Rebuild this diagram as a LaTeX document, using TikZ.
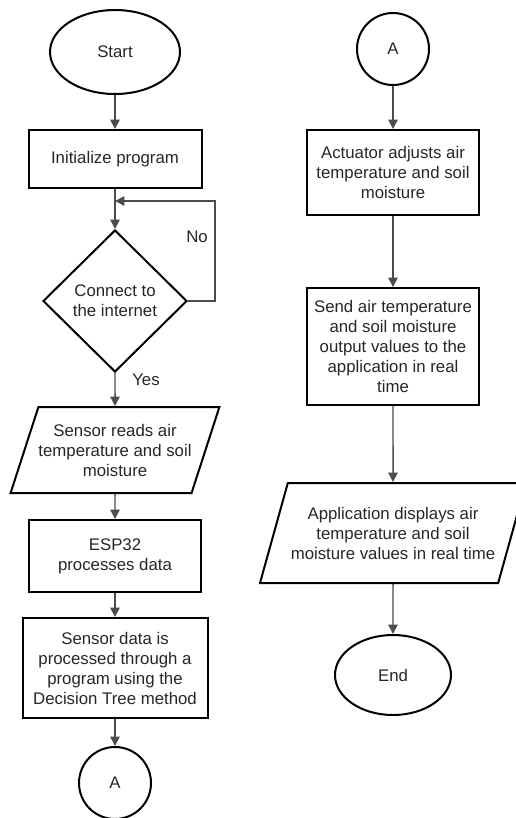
\documentclass[tikz,border=0pt]{standalone}
\usepackage{fontspec}
\setmainfont{Liberation Sans}
\usetikzlibrary{shapes.geometric,arrows.meta}
\begin{document}
\begin{tikzpicture}[x=0.75pt,y=-0.75pt]
\tikzset{block/.style = {draw,line width=1.5pt,inner sep=0pt,align=center,text=black!85,font=\fontsize{12.6}{15}\selectfont}}
\tikzset{term/.style = {block,shape=ellipse}}
\tikzset{proc/.style = {block,shape=rectangle}}
\tikzset{io/.style = {block,shape=trapezium,trapezium left angle=62,trapezium right angle=118,trapezium stretches body}}
\tikzset{cond/.style = {block,shape=diamond}}
\tikzset{link/.style = {block,shape=circle,minimum size=54pt}}
\tikzset{lbl/.style = {text=black!85,font=\fontsize{12.6}{15}\selectfont}}
\tikzset{edge/.style = {draw=black!70,line width=1.1pt,-{Triangle[length=7pt,width=7pt]}}}
\useasboundingbox (0,0) rectangle (515,818);
% left column
\node[term,minimum width=97.5pt,minimum height=63pt] (start) at (115,52) {Start};
\node[proc,minimum width=129.75pt,minimum height=43.5pt] (init) at (115,159) {Initialize program};
\node[cond,minimum width=108pt,minimum height=106.5pt] (inet) at (115,301) {Connect to\\the internet};
\node[io,minimum width=154.5pt,minimum height=64.5pt] (read) at (115,450) {Sensor reads air\\temperature and soil\\moisture};
\node[proc,minimum width=129pt,minimum height=54pt] (esp) at (115,556) {ESP32\\processes data};
\node[proc,minimum width=138.75pt,minimum height=75pt] (dt) at (115,668) {Sensor data is\\processed through a\\program using the\\Decision Tree method};
\node[link] (a1) at (115,783) {A};
% right column
\node[link] (a2) at (393,49) {A};
\node[proc,minimum width=129pt,minimum height=63.75pt] (act) at (393,172.5) {Actuator adjusts air\\temperature and soil\\moisture};
\node[proc,minimum width=129pt,minimum height=87.75pt] (send) at (393,346.5) {Send air temperature\\and soil moisture\\output values to the\\application in real\\time};
\node[io,minimum width=199.5pt,minimum height=75pt] (app) at (393,533) {Application displays air\\temperature and soil\\moisture values in real time};
\node[term,minimum width=87pt,minimum height=60pt] (end) at (393,675) {End};
% labels
\node[lbl] (no) at (197,237) {No};
\node[lbl] (yes) at (146,380) {Yes};
% retry loop
\coordinate (noturn) at (215,201);
\coordinate (noback) at (115,201);
% edges
\draw[edge] (start) -- (init);
\draw[edge] (init) -- (inet);
\draw[edge] (inet.east) -| (noturn) -- (noback);
\draw[edge] (inet) -- (read);
\draw[edge] (read) -- (esp);
\draw[edge] (esp) -- (dt);
\draw[edge] (dt) -- (a1);
\draw[edge] (a2) -- (act);
\draw[edge] (act) -- (send);
\draw[edge] (send) -- (app);
\draw[edge] (app) -- (end);
\end{tikzpicture}
\end{document}
